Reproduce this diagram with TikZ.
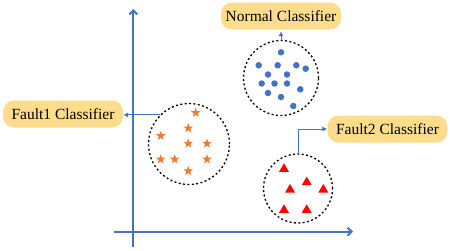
\documentclass[tikz,border=0pt]{standalone}
\usepackage{fontspec}
\setmainfont{Liberation Serif}
\usetikzlibrary{arrows.meta,shapes.geometric}
\definecolor{axblue}{HTML}{4472C4}
\definecolor{labfill}{HTML}{FDDD8C}
\definecolor{starorange}{HTML}{ED7D31}
\definecolor{trired}{HTML}{FF0000}
\tikzset{
  label box/.style={fill=labfill, draw=none, rounded corners=11pt, minimum width=120pt, minimum height=27pt, inner sep=2pt, font=\fontsize{15.5}{18}\selectfont},
  cluster/.style={circle, draw=black, line width=1.3pt, dash pattern=on 2pt off 2.4pt, inner sep=0pt},
  conn/.style={draw=axblue, line width=0.9pt, -{Latex[length=5pt,width=5pt]}},
  axisline/.style={draw=axblue, line width=2pt, -{Straight Barb[length=4pt,width=8pt]}},
  dot/.style={circle, fill=axblue, inner sep=0pt, minimum size=6.5pt},
  staro/.style={star, star points=5, star point ratio=2.4, fill=starorange, inner sep=0pt, minimum size=10pt},
  tri/.style={regular polygon, regular polygon sides=3, fill=trired, inner sep=0pt, minimum size=11.5pt}
}
\begin{document}
\begin{tikzpicture}[x=1pt,y=-1pt]
\useasboundingbox (0,0) rectangle (450,250);
% axes
\coordinate (ytop) at (133.3,9);
\coordinate (ybot) at (133.3,247);
\coordinate (xleft) at (114,231.7);
\coordinate (xright) at (353,231.7);
\draw[axisline] (ybot) -- (ytop);
\draw[axisline] (xleft) -- (xright);
% clusters
\node[cluster, minimum size=75pt] (normc) at (281,78) {};
\node[cluster, minimum size=81pt] (f1c) at (189,144) {};
\node[cluster, minimum size=69pt] (f2c) at (298,188.5) {};
% labels
\node[label box] (normlab) at (281,16) {Normal Classifier};
\node[label box] (f1lab) at (63,114) {Fault1 Classifier};
\node[label box] (f2lab) at (387.5,129) {Fault2 Classifier};
% connectors
\draw[conn, shorten >=1.5pt] (normc.north) -- (normlab.south);
\draw[conn] (f1c.135) -- (f1c.135 -| f1lab.east);
\draw[conn] (f2c.north) |- (f2lab.west);
% normal dots
\foreach \i/\x/\y in {1/281/52.3, 2/258.7/65.3, 3/277.7/65.3, 4/296.3/65.3, 5/305.7/68.7, 6/268/74.5, 7/287/74.5, 8/261.7/83.5, 9/274.5/83.5, 10/287/83.5, 11/300.3/89.3, 12/268/93, 13/281/97, 14/293.3/106}
  \node[dot] (d\i) at (\x,\y) {};
% fault1 stars
\foreach \i/\x/\y in {1/195.7/112.7, 2/188.3/128.2, 3/160.7/135.8, 4/188.3/143.5, 5/207/143.5, 6/160.7/159.3, 7/174.7/159.3, 8/207/159.3, 9/188.3/171}
  \node[staro] (s\i) at (\x,\y) {};
% fault2 triangles
\foreach \i/\x/\y in {1/284/169, 2/306.7/182.3, 3/290/189.7, 4/323.3/189.7, 5/284/210, 6/306.7/210}
  \node[tri] (t\i) at (\x,\y) {};
\end{tikzpicture}
\end{document}
